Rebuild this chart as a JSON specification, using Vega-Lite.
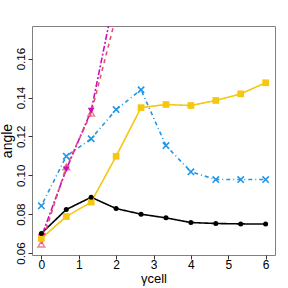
{
  "$schema": "https://vega.github.io/schema/vega-lite/v6.json",
  "width": 243,
  "height": 229,
  "autosize": "none",
  "padding": {"left": 32, "top": 26, "right": 13, "bottom": 33},
  "background": "white",
  "config": {
    "view": {"stroke": "#808080", "strokeWidth": 1},
    "font": "Liberation Sans",
    "axis": {"grid": false, "domain": false, "tickColor": "#333333", "tickSize": 4, "labelColor": "black", "labelFontSize": 12, "labelFont": "Liberation Sans", "titleFont": "Liberation Sans", "titleFontWeight": "normal", "titleColor": "black"}
  },
  "data": {"values": [
    {"s": "a", "g": 0, "v": 0.0701}, {"s": "a", "g": 0.667, "v": 0.0824}, {"s": "a", "g": 1.333, "v": 0.0887}, {"s": "a", "g": 2, "v": 0.0829}, {"s": "a", "g": 2.667, "v": 0.0800}, {"s": "a", "g": 3.333, "v": 0.0781}, {"s": "a", "g": 4, "v": 0.0757}, {"s": "a", "g": 4.667, "v": 0.0752}, {"s": "a", "g": 5.333, "v": 0.0750}, {"s": "a", "g": 6, "v": 0.0749},
    {"s": "b", "g": 0, "v": 0.0675}, {"s": "b", "g": 0.667, "v": 0.0788}, {"s": "b", "g": 1.333, "v": 0.0862}, {"s": "b", "g": 2, "v": 0.1098}, {"s": "b", "g": 2.667, "v": 0.1348}, {"s": "b", "g": 3.333, "v": 0.1364}, {"s": "b", "g": 4, "v": 0.1359}, {"s": "b", "g": 4.667, "v": 0.1385}, {"s": "b", "g": 5.333, "v": 0.1419}, {"s": "b", "g": 6, "v": 0.1476},
    {"s": "c", "g": 0, "v": 0.0843}, {"s": "c", "g": 0.667, "v": 0.1098}, {"s": "c", "g": 1.333, "v": 0.1188}, {"s": "c", "g": 2, "v": 0.1338}, {"s": "c", "g": 2.667, "v": 0.1440}, {"s": "c", "g": 3.333, "v": 0.1153}, {"s": "c", "g": 4, "v": 0.1018}, {"s": "c", "g": 4.667, "v": 0.0978}, {"s": "c", "g": 5.333, "v": 0.0978}, {"s": "c", "g": 6, "v": 0.0978},
    {"s": "d", "g": 0, "v": 0.0683}, {"s": "d", "g": 0.667, "v": 0.1030}, {"s": "d", "g": 1.333, "v": 0.1332}, {"s": "d", "g": 2, "v": 0.1960},
    {"s": "e", "g": 0, "v": 0.0646}, {"s": "e", "g": 0.667, "v": 0.1043}, {"s": "e", "g": 1.333, "v": 0.1320}, {"s": "e", "g": 2, "v": 0.1820}
  ]},
  "encoding": {
    "x": {"field": "g", "type": "quantitative", "scale": {"domain": [-0.25, 6.25], "nice": false, "zero": false}, "axis": {"values": [0, 1, 2, 3, 4, 5, 6], "title": "γcell", "titleFontSize": 13, "titlePadding": 2, "labelPadding": 0}},
    "y": {"field": "v", "type": "quantitative", "scale": {"domain": [0.059, 0.1768], "nice": false, "zero": false}, "axis": {"values": [0.06, 0.08, 0.1, 0.12, 0.14, 0.16], "format": ".2f", "labelAngle": -90, "labelAlign": "center", "labelBaseline": "bottom", "labelPadding": 2, "labelFontSize": 11.5, "title": "angle", "titleFontSize": 14, "titlePadding": 1}}
  },
  "layer": [
    {"mark": {"type": "line", "clip": true, "strokeWidth": 1.6},
     "encoding": {
       "color": {"field": "s", "type": "nominal", "scale": {"domain": ["a", "b", "c", "d", "e"], "range": ["#000000", "#F5C710", "#2297E6", "#CD0BBC", "#DF536B"]}, "legend": null},
       "strokeDash": {"field": "s", "type": "nominal", "scale": {"domain": ["a", "b", "c", "d", "e"], "range": [[1, 0], [1, 0], [1, 3, 4, 3], [2, 2, 6, 2], [4, 4]]}, "legend": null}
     }},
    {"transform": [{"filter": "datum.s === 'e' && datum.g < 1.5"}],
     "mark": {"type": "point", "shape": "triangle-up", "filled": false, "color": "#DF536B", "size": 45, "strokeWidth": 1.5, "clip": true}},
    {"transform": [{"filter": "datum.s === 'd' && datum.g < 1.5"}],
     "mark": {"type": "point", "shape": "triangle-down", "filled": true, "color": "#CD0BBC", "size": 45, "opacity": 1, "clip": true}},
    {"transform": [{"filter": "datum.s === 'c'"}],
     "mark": {"type": "point", "shape": "M-1,-1L1,1M-1,1L1,-1", "filled": false, "color": "#2297E6", "size": 40, "strokeWidth": 1.6, "opacity": 1}},
    {"transform": [{"filter": "datum.s === 'b'"}],
     "mark": {"type": "point", "shape": "square", "filled": true, "color": "#F5C710", "size": 45, "opacity": 1}},
    {"transform": [{"filter": "datum.s === 'a'"}],
     "mark": {"type": "point", "shape": "circle", "filled": true, "color": "#000000", "size": 25, "opacity": 1}}
  ]
}
